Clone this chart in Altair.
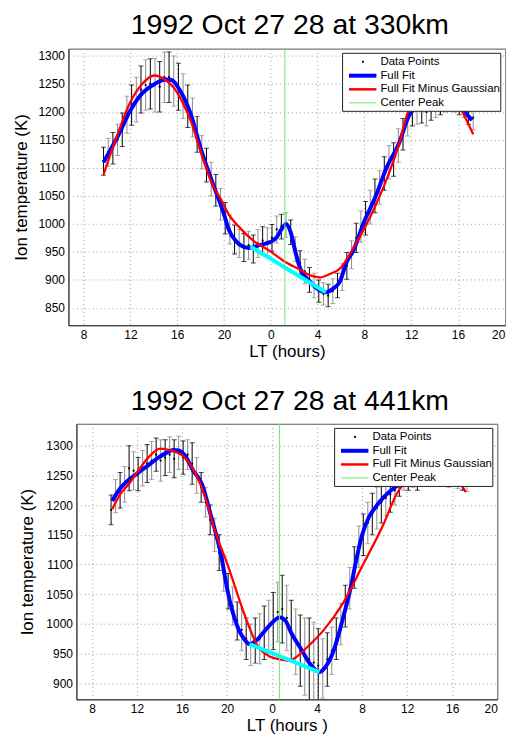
import altair as alt
import pandas as pd

FONT = "Liberation Sans"

# ---------------- shared sample times (hours, continuous; >24 = next day) ----------------
times = [9.7, 10.1, 10.5, 10.9, 11.3, 11.7, 12.1, 12.5, 12.9, 13.3,
         13.7, 14.1, 14.5, 14.9, 15.3, 15.7, 16.1, 16.5, 16.9, 17.3,
         17.7, 18.1, 18.5, 18.9, 19.3, 19.7, 20.1, 20.5, 20.9, 21.3,
         21.7, 22.1, 22.5, 22.9, 23.3, 23.7, 24.1, 24.5, 24.9, 25.3,
         25.7, 26.1, 26.5, 26.9, 27.3, 27.7, 28.1, 28.5, 28.9, 29.3,
         29.7, 30.1, 30.5, 30.9, 31.3, 31.7, 32.1, 32.5, 32.9, 33.3,
         33.7, 34.1, 34.5, 34.9, 35.3, 35.7, 36.1, 36.5, 36.9, 37.3,
         37.7, 38.1, 38.5, 38.9, 39.3, 39.7, 40.1, 40.5, 40.9, 41.3]

# ---------------- 330 km ----------------
top_vals = [1112, 1128, 1135, 1150, 1168, 1195, 1212, 1222, 1240, 1248,
            1250, 1248, 1245, 1262, 1262, 1255, 1245, 1228, 1210, 1190,
            1160, 1128, 1105, 1080, 1060, 1035, 1010, 990, 972, 965,
            958, 962, 955, 965, 970, 968, 975, 990, 995, 998,
            985, 955, 930, 915, 900, 890, 880, 875, 872, 880,
            890, 905, 925, 945, 975, 995, 1010, 1030, 1050, 1065,
            1090, 1110, 1115, 1140, 1160, 1185, 1200, 1203, 1205, 1200,
            1210, 1215, 1220, 1225, 1228, 1225, 1220, 1212, 1200, 1190]
top_errs = [25, 25, 28, 28, 30, 33, 36, 40, 42, 45,
            45, 48, 45, 45, 45, 45, 42, 40, 38, 35,
            32, 30, 30, 30, 28, 28, 28, 26, 26, 25,
            25, 25, 25, 25, 25, 25, 24, 24, 22, 22,
            22, 22, 22, 22, 22, 22, 20, 20, 20, 22,
            22, 24, 24, 25, 26, 28, 30, 30, 30, 30,
            30, 30, 30, 30, 28, 28, 25, 25, 25, 25,
            25, 25, 25, 25, 25, 25, 25, 22, 22, 22]
top_full_x = [9.7, 10.5, 11.0, 12.0, 13.0, 14.0, 15.0, 15.5, 16.3, 17.17, 18.0, 18.87,
              20.0, 20.4, 21.0, 21.4, 22.1, 23.0, 24.0, 24.5, 24.9, 25.3, 25.7, 26.1,
              26.5, 27.35, 28.0, 28.7, 29.3, 29.9, 30.5, 31.0, 32.0, 33.0, 33.86, 35.0,
              35.8, 36.5, 37.5, 38.5, 39.5, 40.1, 40.7, 41.2]
top_full_y = [1110, 1140, 1160, 1203, 1233, 1249, 1258, 1257, 1236, 1195, 1135, 1082,
              1017, 990, 970, 962, 957, 962, 968, 976, 990, 1000, 985, 950,
              921, 897, 884, 878, 884, 897, 933, 950, 1005, 1051, 1099, 1146,
              1193, 1210, 1222, 1225, 1218, 1208, 1197, 1185]
top_minus_x = [9.7, 10.3, 10.9, 12.0, 13.0, 14.05, 15.0, 15.75, 16.5, 17.17, 18.0, 19.15,
               19.7, 20.4, 21.4, 22.5, 23.96, 25.0, 26.5, 27.5, 28.2, 29.0, 30.0, 31.0,
               32.0, 33.0, 34.0, 35.0, 35.7, 36.5, 37.5, 38.5, 39.5, 40.4, 41.3]
top_minus_y = [1088, 1125, 1160, 1218, 1250, 1265, 1257, 1242, 1215, 1183, 1129, 1064,
               1045, 1017, 992, 970, 951, 935, 918, 907, 904.5, 910, 922, 955,
               992, 1035, 1085, 1145, 1199, 1230, 1248, 1248, 1230, 1199, 1160]
top_base_x = [22.26, 28.7]
top_base_y = [959.5, 878]
top_peak = 25.2

# ---------------- 441 km ----------------
bot_vals = [1192, 1215, 1225, 1235, 1262, 1258, 1252, 1262, 1270, 1275,
            1285, 1275, 1280, 1285, 1278, 1288, 1280, 1285, 1270, 1250,
            1230, 1205, 1175, 1150, 1120, 1085, 1055, 1030, 1005, 990,
            975, 965, 972, 975, 985, 995, 1005, 1020, 1025, 1010,
            990, 970, 955, 945, 940, 935, 930, 925, 940, 955,
            975, 1000, 1030, 1060, 1095, 1130, 1150, 1170, 1185, 1195,
            1205, 1212, 1218, 1225, 1235, 1240, 1240, 1245, 1240, 1250,
            1248, 1252, 1255, 1250, 1248, 1245, 1250, 1243, 1240, 1238]
bot_errs = [25, 28, 30, 30, 38, 32, 28, 30, 32, 32,
            28, 35, 30, 30, 32, 28, 28, 25, 35, 30,
            25, 25, 25, 28, 30, 30, 30, 32, 32, 35,
            35, 35, 38, 42, 45, 45, 48, 50, 57, 55,
            50, 55, 60, 65, 70, 68, 62, 50, 45, 40,
            35, 35, 35, 35, 35, 35, 35, 35, 35, 35,
            35, 30, 30, 25, 20, 15, 15, 15, 15, 15,
            15, 15, 15, 15, 15, 15, 15, 15, 15, 15]
bot_full_x = [9.8, 10.5, 11.0, 12.0, 13.0, 13.9, 14.6, 15.25, 15.7, 16.2, 17.0, 17.75,
              18.6, 19.5, 20.0, 20.5, 21.0, 21.5, 22.0, 22.6, 23.2, 24.0, 24.67, 25.2,
              25.7, 26.6, 27.4, 28.2, 28.9, 29.5, 30.3, 31.0, 31.5, 32.0, 32.6, 33.2,
              34.0, 35.0, 36.0, 38.0, 40.0, 41.2]
bot_full_y = [1207, 1228, 1238, 1253, 1267, 1280, 1288, 1293, 1292, 1285, 1258, 1236,
              1180, 1113, 1060, 1020, 992, 975, 966, 972, 985, 1002, 1011, 1005,
              985, 957, 932, 919, 932, 957, 1010, 1063, 1110, 1150, 1180, 1197,
              1215, 1231, 1240, 1250, 1248, 1240]
bot_minus_x = [9.8, 10.5, 11.3, 12.0, 13.0, 14.07, 15.0, 16.0, 17.2, 18.05, 18.9, 20.1,
               20.7, 21.6, 22.75, 23.8, 24.8, 25.4, 26.2, 26.9, 28.6, 30.3, 32.0, 33.8,
               35.1, 36.5, 38.0, 39.5, 40.9, 41.2]
bot_minus_y = [1193, 1218, 1236, 1255, 1280, 1295, 1292, 1284, 1253, 1214, 1158, 1097,
               1063, 1013, 962, 945, 940, 938, 945, 957, 990, 1035, 1097, 1164,
               1220, 1250, 1262, 1255, 1231, 1222]
bot_base_x = [22.0, 28.2]
bot_base_y = [966, 919]
bot_peak = 24.65

x_ticks = [8, 12, 16, 20, 24, 28, 32, 36, 40, 44]
legend_labels = ["Data Points", "Full Fit", "Full Fit Minus Gaussian", "Center Peak"]


def panel(title, xtitle, vals, errs, fx, fy, mx, my, bx, by, peak,
          xdom, ydom, yticks, W, H, ytp):
    pts = pd.DataFrame({
        "t": times, "v": vals,
        "lo": [v - e for v, e in zip(vals, errs)],
        "hi": [v + e for v, e in zip(vals, errs)],
        "c": ["#000000" if i % 2 == 0 else "#8a8a8a" for i in range(len(times))],
    })
    xs = alt.Scale(domain=xdom, nice=False, zero=False)
    ys = alt.Scale(domain=ydom, nice=False, zero=False)
    xax = alt.Axis(values=x_ticks, labelExpr="'' + (datum.value % 24)", title=xtitle,
                   ticks=False, labelPadding=4, titlePadding=3, grid=True)
    yax = alt.Axis(values=yticks, format="d", title="Ion temperature (K)", ticks=False,
                   labelPadding=4, titlePadding=ytp, grid=True)

    def X(f):
        return alt.X(f, type="quantitative", scale=xs, axis=xax)

    def Y(f):
        return alt.Y(f, type="quantitative", scale=ys, axis=yax)

    bars = alt.Chart(pts).mark_rule(strokeWidth=1, clip=True).encode(
        x=X("t"), y=Y("lo"), y2="hi", color=alt.Color("c:N", scale=None))
    cap_lo = alt.Chart(pts).mark_tick(orient="horizontal", size=5, thickness=1, clip=True).encode(
        x=X("t"), y=Y("lo"), color=alt.Color("c:N", scale=None))
    cap_hi = alt.Chart(pts).mark_tick(orient="horizontal", size=5, thickness=1, clip=True).encode(
        x=X("t"), y=Y("hi"), color=alt.Color("c:N", scale=None))
    dots = alt.Chart(pts).mark_circle(size=5, color="black", opacity=1, clip=True).encode(
        x=X("t"), y=Y("v"))
    full = alt.Chart(pd.DataFrame({"t": fx, "v": fy})).mark_line(
        color="#0000ff", strokeWidth=4, interpolate="monotone", clip=True).encode(
        x=X("t"), y=Y("v"))
    minus = alt.Chart(pd.DataFrame({"t": mx, "v": my})).mark_line(
        color="#ff0000", strokeWidth=2.3, interpolate="monotone", clip=True).encode(
        x=X("t"), y=Y("v"))
    base = alt.Chart(pd.DataFrame({"t": bx, "v": by})).mark_line(
        color="#00ffff", strokeWidth=4).encode(x=X("t"), y=Y("v"))
    green = alt.Chart(pd.DataFrame({"t": [peak]})).mark_rule(
        color="#66ee66", strokeWidth=1).encode(x=X("t"))

    one = pd.DataFrame({"k": [0]})
    # panel title, drawn as text above the plot
    ttl = alt.Chart(one).mark_text(align="center", baseline="alphabetic", font=FONT,
                                   fontSize=28.5, color="black").encode(
        x=alt.value(W / 2 + 3), y=alt.value(-14.3), text=alt.value(title))

    # legend box (inside top-right corner of the plot)
    x1 = W - 4.5
    x0 = x1 - 159
    y0, y1 = 4.7, 63
    rows = [y0 + 8.6, y0 + 22.5, y0 + 36.2, y0 + 49.8]
    box = alt.Chart(one).mark_rect(fill="white", stroke="#222222", strokeWidth=1).encode(
        x=alt.value(x0), x2=alt.value(x1), y=alt.value(y0), y2=alt.value(y1))
    leg = [box]
    leg.append(alt.Chart(one).mark_circle(size=5, color="black", opacity=1).encode(
        x=alt.value(x0 + 20.5), y=alt.value(rows[0])))
    for r, col, sw in [(rows[1], "#0000ff", 4), (rows[2], "#ff0000", 2.5), (rows[3], "#66ee66", 1)]:
        leg.append(alt.Chart(one).mark_rule(color=col, strokeWidth=sw).encode(
            x=alt.value(x0 + 6.4), x2=alt.value(x0 + 34), y=alt.value(r)))
    for r, lab in zip(rows, legend_labels):
        leg.append(alt.Chart(one).mark_text(align="left", baseline="middle", font=FONT,
                                            fontSize=11.5, color="black").encode(
            x=alt.value(x0 + 38), y=alt.value(r), text=alt.value(lab)))

    return alt.layer(bars, cap_lo, cap_hi, dots, full, minus, base, green, *leg, ttl).properties(
        width=W, height=H)


top = panel("1992 Oct 27 28 at 330km", "LT (hours)", top_vals, top_errs,
            top_full_x, top_full_y, top_minus_x, top_minus_y, top_base_x, top_base_y, top_peak,
            [6.70, 44.04], [819, 1313], [850, 900, 950, 1000, 1050, 1100, 1150, 1200, 1250, 1300],
            439, 278, 7.5)
bottom = panel("1992 Oct 27 28 at 441km", "LT (hours )", bot_vals, bot_errs,
               bot_full_x, bot_full_y, bot_minus_x, bot_minus_y, bot_base_x, bot_base_y, bot_peak,
               [6.62, 44.0], [873, 1337], [900, 950, 1000, 1050, 1100, 1150, 1200, 1250, 1300],
               423, 277, 9.5)

chart = alt.vconcat(top, bottom, spacing=26, center=True).properties(
    padding={"left": 3.5, "top": 1, "right": 0, "bottom": 0}
).configure_view(stroke="#555555", strokeWidth=1).configure_axis(
    labelFont=FONT, titleFont=FONT, labelFontSize=12, titleFontSize=17,
    titleFontWeight="normal", labelColor="black", titleColor="black",
    domainColor="#333333", gridColor="#9a9a9a", gridDash=[1, 3], gridWidth=1,
    gridOpacity=1
)

chart.save("out.html", embed_options={"renderer": "svg", "actions": False})
